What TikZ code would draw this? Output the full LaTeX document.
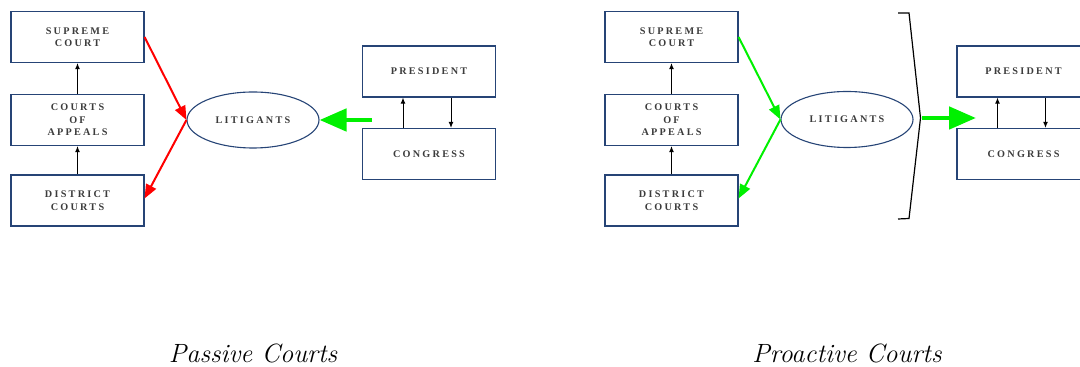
\documentclass[tikz,border=0pt]{standalone}
\usepackage{fontspec}
\newfontfamily\boxfont[LetterSpace=22]{Liberation Serif}
\usetikzlibrary{arrows.meta,shapes.geometric}
\definecolor{boxblue}{RGB}{38,68,118}
\definecolor{txtgray}{RGB}{60,60,60}
\definecolor{brightgreen}{RGB}{0,240,0}
\tikzset{
  org/.style={draw=boxblue, line width=0.55pt, rectangle, minimum width=66.5pt, minimum height=25.5pt,
    inner sep=0pt, align=center, text=txtgray, font=\boxfont\bfseries\fontsize{5.1}{6.3}\selectfont},
  litbox/.style={draw=boxblue, line width=0.55pt, ellipse, minimum width=66pt, minimum height=28pt,
    inner sep=0pt, text=txtgray, font=\boxfont\bfseries\fontsize{5.1}{6.3}\selectfont},
  thin/.style={line width=0.5pt, -{Latex[length=3pt,width=2.4pt]}},
  redarr/.style={draw=red, line width=1pt, -{Triangle[length=7pt,width=5.5pt]}},
  greenarr/.style={draw=brightgreen, line width=1pt, -{Triangle[length=7pt,width=5.5pt]}},
  bigarr/.style={draw=brightgreen, fill=brightgreen, line width=2.4pt, -{Triangle[length=13.5pt,width=11pt]}},
  caption/.style={font=\itshape\fontsize{13.2}{16}\selectfont, inner sep=0pt, anchor=base},
}
\begin{document}
\begin{tikzpicture}[x=0.5pt,y=-0.5pt]
\useasboundingbox (0,0) rectangle (1080,367);
% ---------- Passive courts ----------
\node[org] (sc1) at (77.5,37) {SUPREME\\COURT};
\node[org] (coa1) at (77.5,120) {COURTS\\OF\\APPEALS};
\node[org] (dc1) at (77.5,200.5) {DISTRICT\\COURTS};
\node[litbox] (lit1) at (253,120) {LITIGANTS};
\node[org] (pres1) at (429,71.5) {PRESIDENT};
\node[org] (cong1) at (429,154) {CONGRESS};
\draw[thin] (dc1.north) -- (coa1.south);
\draw[thin] (coa1.north) -- (sc1.south);
\draw[thin] ([xshift=-13pt]cong1.north) -- ([xshift=-13pt]pres1.south);
\draw[thin] ([xshift=11pt]pres1.south) -- ([xshift=11pt]cong1.north);
\draw[redarr] (sc1.east) -- (lit1.west);
\draw[redarr] (lit1.west) -- ([yshift=1pt]dc1.east);
\coordinate (g1) at (372,120);
\draw[bigarr] (g1) -- (lit1.east);
\node[caption] (cap1) at (253,363) {Passive Courts};
% ---------- Proactive courts ----------
\node[org] (sc2) at (671.5,37) {SUPREME\\COURT};
\node[org] (coa2) at (671.5,120) {COURTS\\OF\\APPEALS};
\node[org] (dc2) at (671.5,200.5) {DISTRICT\\COURTS};
\node[litbox] (lit2) at (847,119.5) {LITIGANTS};
\node[org] (pres2) at (1023.5,71.5) {PRESIDENT};
\node[org] (cong2) at (1023.5,154) {CONGRESS};
\draw[thin] (dc2.north) -- (coa2.south);
\draw[thin] (coa2.north) -- (sc2.south);
\draw[thin] ([xshift=-13pt]cong2.north) -- ([xshift=-13pt]pres2.south);
\draw[thin] ([xshift=11pt]pres2.south) -- ([xshift=11pt]cong2.north);
\draw[greenarr] (sc2.east) -- (lit2.west);
\draw[greenarr] (lit2.west) -- ([yshift=1pt]dc2.east);
\coordinate (bt) at (898,13);
\coordinate (bm) at (920.5,118);
\coordinate (bb) at (898,219);
\draw[line width=0.6pt] (bt) -- (909,13) -- (bm) -- (909,218.5) -- (bb);
\coordinate (bms) at (921.5,118);
\coordinate (g2) at (976,118);
\draw[bigarr] (bms) -- (g2);
\node[caption] (cap2) at (847,363) {Proactive Courts};
\end{tikzpicture}
\end{document}
